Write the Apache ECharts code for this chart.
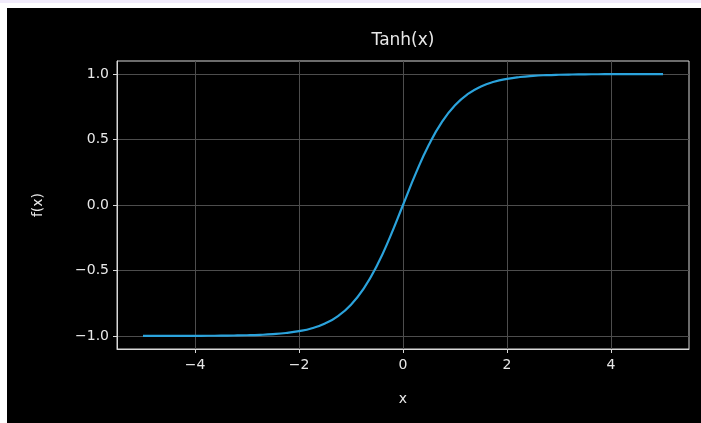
<!DOCTYPE html>
<html>
<head>
<meta charset="utf-8">
<script src="https://cdn.jsdelivr.net/npm/echarts@6/dist/echarts.min.js"></script>
<style>
html,body{margin:0;padding:0;background:#fff;}
#strip{position:absolute;left:0;top:0;width:701px;height:3px;background:#f1ebfb;}
#bg{position:absolute;left:7px;top:8px;width:694px;height:415px;background:#000;}
#chart{position:absolute;left:0;top:0;width:701px;height:423px;}
</style>
</head>
<body>
<div id="strip"></div>
<div id="bg"></div>
<div id="chart"></div>
<script>
const xValues = [-5,-4.75,-4.5,-4.25,-4,-3.75,-3.5,-3.25,-3,-2.75,-2.5,-2.25,-2,-1.75,-1.5,-1.25,-1,-0.75,-0.5,-0.25,0,0.25,0.5,0.75,1,1.25,1.5,1.75,2,2.25,2.5,2.75,3,3.25,3.5,3.75,4,4.25,4.5,4.75,5];
const yValues = [-0.9999,-0.9999,-0.9998,-0.9996,-0.9993,-0.9989,-0.9982,-0.9970,-0.9951,-0.9919,-0.9866,-0.9780,-0.9640,-0.9414,-0.9051,-0.8483,-0.7616,-0.6351,-0.4621,-0.2449,0,0.2449,0.4621,0.6351,0.7616,0.8483,0.9051,0.9414,0.9640,0.9780,0.9866,0.9919,0.9951,0.9970,0.9982,0.9989,0.9993,0.9996,0.9998,0.9999,0.9999];
const xTicks = [-4,-2,0,2,4];
const yTicks = [-1.0,-0.5,0.0,0.5,1.0];
const titleText = 'Tanh(x)';
const xName = 'x';
const yName = 'f(x)';

const chart = echarts.init(document.getElementById('chart'));
const font = 'DejaVu Sans';
const txt = '#e8e8e8';
const minus = s => String(s).replace('-', '\u2212');
chart.setOption({
  animation: false,
  backgroundColor: 'transparent',
  graphic: [{
    type: 'text', x: 403, y: 41,
    style: { text: titleText, fill: txt, font: '17px "DejaVu Sans"', align: 'center', verticalAlign: 'middle' }
  }],
  grid: { left: 117, top: 61, width: 572, height: 288, show: true, borderColor: '#d8d8d8', borderWidth: 1, backgroundColor: '#000' },
  xAxis: {
    type: 'value', min: -5.5, max: 5.5,
    name: xName, nameLocation: 'middle', nameGap: 43,
    nameTextStyle: { color: txt, fontSize: 14, fontFamily: font },
    axisLine: { show: true, onZero: false, lineStyle: { color: '#d8d8d8', width: 1 } },
    axisTick: { show: true, length: 4, customValues: xTicks, lineStyle: { color: '#d8d8d8' } },
    axisLabel: { customValues: xTicks, color: txt, fontSize: 14, fontFamily: font, margin: 9, formatter: v => minus(v) },
    splitLine: { show: true, lineStyle: { color: '#4d4d4d', width: 1 } }
  },
  yAxis: {
    type: 'value', min: -1.1, max: 1.1,
    name: yName, nameLocation: 'middle', nameGap: 72, nameRotate: 90,
    nameTextStyle: { color: txt, fontSize: 14, fontFamily: font },
    axisLine: { show: true, onZero: false, lineStyle: { color: '#d8d8d8', width: 1 } },
    axisTick: { show: true, length: 4, customValues: yTicks, lineStyle: { color: '#d8d8d8' } },
    axisLabel: { customValues: yTicks, color: txt, fontSize: 14, fontFamily: font, margin: 8, formatter: v => minus(v.toFixed(1)) },
    splitLine: { show: true, lineStyle: { color: '#4d4d4d', width: 1 } }
  },
  series: [{
    type: 'line', smooth: true, showSymbol: false,
    data: xValues.map((x, i) => [x, yValues[i]]),
    lineStyle: { color: '#2ba3dc', width: 2.2 }
  }]
});
</script>
</body>
</html>
